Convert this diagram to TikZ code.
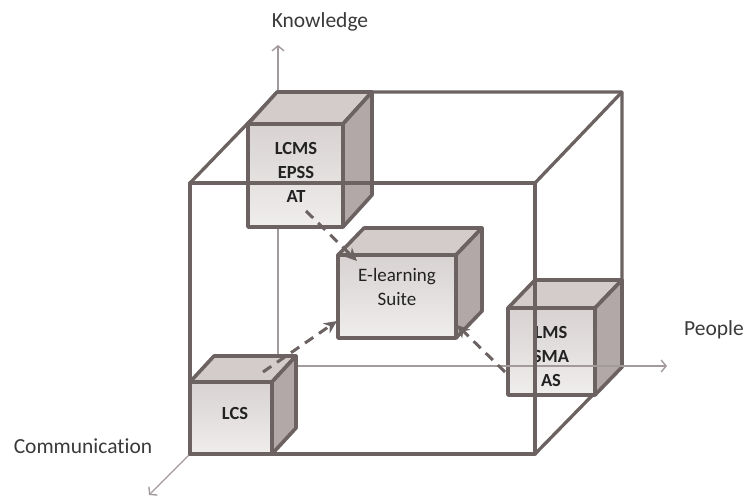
\documentclass[tikz,border=0pt]{standalone}
\usepackage{fontspec}
\setmainfont{Carlito}[Ligatures=NoCommon]
\usetikzlibrary{arrows.meta,calc}
\definecolor{edgec}{HTML}{6C6262}
\definecolor{axisc}{HTML}{A39B9B}
\definecolor{facetop}{HTML}{D8D2D2}
\definecolor{facebot}{HTML}{F0EDED}
\definecolor{topc}{HTML}{D4CBCB}
\definecolor{sidec}{HTML}{B2A8A8}
\definecolor{txtc}{HTML}{222222}
\definecolor{labc}{HTML}{3A3A3A}
\tikzset{
  bigedge/.style={draw=edgec, line width=3.3pt, line join=round},
  cubeedge/.style={draw=edgec, line width=3.6pt, line join=round},
  face/.style={cubeedge, top color=facetop, bottom color=facebot, inner sep=0pt, outer sep=0pt},
  axis/.style={draw=axisc, line width=1.4pt, -{Straight Barb[length=5pt,width=12pt]}},
  lab/.style={text=labc, font=\fontsize{21.5}{24}\selectfont, inner sep=0pt},
  cubetxt/.style={text=txtc, font=\fontsize{18.5}{24}\selectfont\bfseries, inner sep=0pt},
  cubetxtr/.style={text=txtc, font=\fontsize{19}{24}\selectfont, inner sep=0pt},
  flow/.style={draw=edgec, line width=3pt, dash pattern=on 10pt off 7pt, -{Stealth[length=13pt,width=12pt]}},
}
\newcommand{\cubeparts}[3]{%
  \filldraw[cubeedge, fill=topc] (#1.north west) -- ($(#1.north west)+(#2,#3)$) -- ($(#1.north east)+(#2,#3)$) -- (#1.north east) -- cycle;
  \filldraw[cubeedge, fill=sidec] (#1.north east) -- ($(#1.north east)+(#2,#3)$) -- ($(#1.south east)+(#2,#3)$) -- (#1.south east) -- cycle;
}
\begin{document}
\begin{tikzpicture}[x=1pt,y=-1pt]
\useasboundingbox (0,0) rectangle (748,497);
% axes
\coordinate (O) at (278,366);
\coordinate (kn) at (278,45);
\coordinate (pe) at (667,366);
\coordinate (pe0) at (296,366);
\coordinate (co) at (149,495);
\draw[axis] (O) -- (kn);
\draw[axis] (O) -- (co);
\node[lab] (knl) at (320,22) {Knowledge};
\node[lab] (pel) at (714,330) {People};
\node[lab] (col) at (83,446) {Communication};
% big cube back edges
\coordinate (F1) at (190,183);
\coordinate (F2) at (535,183);
\coordinate (F3) at (535,454);
\coordinate (F4) at (190,454);
\coordinate (B1) at (278,92);
\coordinate (B2) at (622,92);
\coordinate (B3) at (622,365);
\draw[bigedge] (F1) -- (B1) -- (B2) -- (B3) -- (F3);
\draw[bigedge] (F2) -- (B2);
% LCMS cube
\node[face, minimum width=95pt, minimum height=103pt] (lcms) at (295.5,175.5) {};
\cubeparts{lcms}{29}{-32}
\node[cubetxt, align=center] (lcmst) at (296,172) {LCMS\\EPSS\\AT};
% E-learning cube
\node[face, minimum width=118pt, minimum height=83pt] (els) at (397,296.5) {};
\cubeparts{els}{26}{-27}
\node[cubetxtr, align=center] (elst) at (397,287) {E-learning\\Suite};
% LMS cube
\node[face, minimum width=87pt, minimum height=87pt] (lms) at (551.5,351.5) {};
\cubeparts{lms}{27}{-28}
\node[cubetxt, align=center] (lmst) at (551,356) {LMS\\SMA\\AS};
% people axis over the LMS cube
\draw[axis] (pe0) -- (pe);
% big cube front face
\draw[bigedge] (F1) rectangle (F3);
% LCS cube
\node[face, minimum width=82pt, minimum height=72pt] (lcs) at (231,418) {};
\cubeparts{lcs}{24}{-26}
\node[cubetxt] (lcst) at (235,413) {LCS};
% flows
\coordinate (a1) at (306,211);
\coordinate (a2) at (263,372);
\coordinate (a3) at (505,372);
\draw[flow] (a1) -- ($(els.north west)+(19,6)$);
\draw[flow] (a2) -- ($(els.south west)+(-1,-17)$);
\draw[flow] (a3) -- ($(els.south east)+(1,-13)$);
\end{tikzpicture}
\end{document}
